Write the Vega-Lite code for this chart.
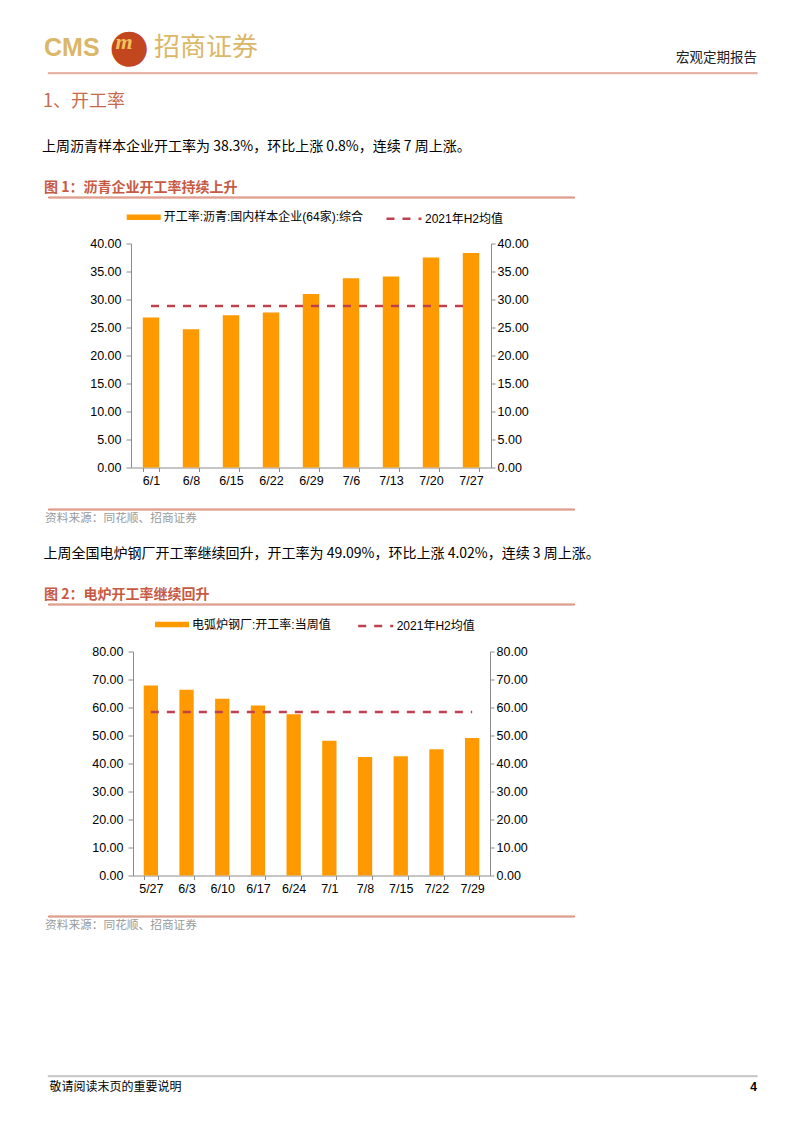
{
  "$schema": "https://vega.github.io/schema/vega-lite/v6.json",
  "background": "white",
  "padding": {"left": 42, "top": 23.5, "right": 45, "bottom": 40},
  "bounds": "flush",
  "spacing": 0,
  "resolve": {"scale": {"color": "independent", "strokeDash": "independent"}, "legend": {"color": "independent", "strokeDash": "independent"}},
  "config": {
    "view": {"stroke": null},
    "font": "Noto Sans CJK SC",
    "title": {"anchor": "start", "offset": 0.01, "baseline": "bottom", "fontWeight": "normal", "font": "Noto Sans CJK SC"},
    "axis": {"labelFont": "Liberation Sans", "labelFontSize": 12.5, "labelColor": "#000", "domainColor": "#8c8c8c", "tickColor": "#8c8c8c", "grid": false, "title": null},
    "legend": {"labelFont": "Liberation Sans, Noto Sans CJK SC", "labelFontSize": 12, "labelColor": "#000", "padding": 0, "labelLimit": 400}
  },
  "vconcat": [
    {"width": 709, "height": 1, "data": {"values": []}, "mark": "text",
     "title": {"text": "CMS", "font": "Liberation Sans", "fontSize": 25, "fontWeight": "bold", "color": "#DBB768", "dx": -4, "dy": 1}},
    {"width": 709, "height": 1, "data": {"values": []}, "mark": "text",
     "title": {"text": "●", "font": "DejaVu Sans", "fontSize": 46, "color": "#C2461E", "dx": 61, "dy": 9.6}},
    {"width": 709, "height": 1, "data": {"values": []}, "mark": "text",
     "title": {"text": "m", "font": "Liberation Serif", "fontSize": 22, "fontWeight": "bold", "fontStyle": "italic", "color": "#F2C35C", "dx": 67.5, "dy": -8.4}},
    {"width": 709, "height": 1, "data": {"values": []}, "mark": "text",
     "title": {"text": "招商证券", "fontSize": 26, "color": "#DBB768", "dx": 106, "dy": -2.6}},
    {"width": 709, "height": 8, "data": {"values": []}, "mark": "text",
     "title": {"text": "宏观定期报告", "anchor": "end", "fontSize": 13.5, "color": "#222222", "dy": -0.4}},
    {"width": 709, "height": 1, "data": {"values": []}, "mark": "text",
     "view": {"stroke": "#D4806A", "strokeWidth": 0.7}},
    {"width": 709, "height": 38, "data": {"values": []}, "mark": "text"},
    {"width": 709, "height": 43, "data": {"values": []}, "mark": "text",
     "title": {"text": "1、开工率", "fontSize": 18, "color": "#C86A4E", "dx": -5}},
    {"width": 709, "height": 42, "data": {"values": []}, "mark": "text",
     "title": {"text": "上周沥青样本企业开工率为 38.3%，环比上涨 0.8%，连续 7 周上涨。", "fontSize": 14, "color": "#000000", "dx": -6}},
    {"width": 526, "height": 1, "data": {"values": []}, "mark": "text",
     "view": {"stroke": "#D4806A", "strokeWidth": 1},
     "title": {"text": "图 1：沥青企业开工率持续上升", "fontSize": 14, "fontWeight": "bold", "color": "#C65A42", "offset": 1.7, "dx": -4}},
    {"width": 709, "height": 46, "data": {"values": []}, "mark": "text"},
    {
      "hconcat": [
        {"width": 83, "height": 224, "data": {"values": []}, "mark": "text"},
        {
          "width": 360, "height": 224,
          "data": {"values": [
            {"week": "6/1", "rate": 26.8, "avg": 28.85},
            {"week": "6/8", "rate": 24.7, "avg": 28.85},
            {"week": "6/15", "rate": 27.2, "avg": 28.85},
            {"week": "6/22", "rate": 27.7, "avg": 28.85},
            {"week": "6/29", "rate": 31.0, "avg": 28.85},
            {"week": "7/6", "rate": 33.8, "avg": 28.85},
            {"week": "7/13", "rate": 34.1, "avg": 28.85},
            {"week": "7/20", "rate": 37.5, "avg": 28.85},
            {"week": "7/27", "rate": 38.3, "avg": 28.85}
          ]},
          "layer": [
            {"mark": {"type": "bar"},
             "encoding": {
               "x": {"field": "week", "type": "ordinal", "sort": null,
                     "scale": {"paddingInner": 0.59, "paddingOuter": 0.295},
                     "axis": {"labelAngle": 0, "tickBand": "extent", "tickSize": 4, "labelPadding": 3}},
               "y": {"field": "rate", "type": "quantitative", "scale": {"domain": [0, 40], "nice": false},
                     "axis": {"orient": "left", "values": [0, 5, 10, 15, 20, 25, 30, 35, 40], "format": ".2f", "tickSize": 5, "labelPadding": 5}},
               "color": {"datum": "开工率:沥青:国内样本企业(64家):综合", "scale": {"range": ["#FF9900"]},
                         "legend": {"orient": "none", "legendX": -4.3, "legendY": -43.3, "title": null,
                                    "symbolType": "M-1,-0.16L1,-0.16L1,0.16L-1,0.16Z", "symbolSize": 1156,
                                    "symbolStrokeWidth": 0, "labelOffset": 3}}
             }},
            {"mark": {"type": "line", "color": "#C0404C", "strokeWidth": 2.5},
             "encoding": {
               "x": {"field": "week", "type": "ordinal", "sort": null},
               "y": {"field": "avg", "type": "quantitative", "scale": {"domain": [0, 40], "nice": false},
                     "axis": {"orient": "right", "values": [0, 5, 10, 15, 20, 25, 30, 35, 40], "format": ".2f", "tickSize": 4, "labelPadding": 2}},
               "strokeDash": {"datum": "2021年H2均值", "scale": {"range": [[8, 8]]},
                              "legend": {"orient": "none", "legendX": 254, "legendY": -43.8, "title": null,
                                         "symbolType": "stroke", "symbolSize": 1225, "symbolStrokeWidth": 2.5,
                                         "symbolStrokeColor": "#C0404C", "labelOffset": 2}}
             }}
          ],
          "resolve": {"scale": {"y": "independent"}}
        }
      ],
      "spacing": 0,
      "bounds": "flush",
      "resolve": {"scale": {"color": "independent", "strokeDash": "independent"}, "legend": {"color": "independent", "strokeDash": "independent"}}
    },
    {"width": 709, "height": 265, "data": {"values": []}, "mark": "text"},
    {"width": 526, "height": 1, "data": {"values": []}, "mark": "text",
     "view": {"stroke": "#D4806A", "strokeWidth": 1},
     "title": {"text": "资料来源：同花顺、招商证券", "orient": "bottom", "baseline": "top", "fontSize": 11.7, "color": "#9A9A9A", "offset": 3.7, "dx": -3}},
    {"width": 709, "height": 52, "data": {"values": []}, "mark": "text"},
    {"width": 709, "height": 42, "data": {"values": []}, "mark": "text",
     "title": {"text": "上周全国电炉钢厂开工率继续回升，开工率为 49.09%，环比上涨 4.02%，连续 3 周上涨。", "fontSize": 14, "color": "#000000", "dx": -4.5}},
    {"width": 526, "height": 1, "data": {"values": []}, "mark": "text",
     "view": {"stroke": "#D4806A", "strokeWidth": 1},
     "title": {"text": "图 2：电炉开工率继续回升", "fontSize": 14, "fontWeight": "bold", "color": "#C65A42", "offset": 1.2, "dx": -4}},
    {"width": 709, "height": 47, "data": {"values": []}, "mark": "text"},
    {
      "hconcat": [
        {"width": 85, "height": 224, "data": {"values": []}, "mark": "text"},
        {
          "width": 357, "height": 224,
          "data": {"values": [
            {"week": "5/27", "rate": 67.9, "avg": 58.4},
            {"week": "6/3", "rate": 66.3, "avg": 58.4},
            {"week": "6/10", "rate": 63.1, "avg": 58.4},
            {"week": "6/17", "rate": 60.7, "avg": 58.4},
            {"week": "6/24", "rate": 57.6, "avg": 58.4},
            {"week": "7/1", "rate": 48.1, "avg": 58.4},
            {"week": "7/8", "rate": 42.3, "avg": 58.4},
            {"week": "7/15", "rate": 42.6, "avg": 58.4},
            {"week": "7/22", "rate": 45.07, "avg": 58.4},
            {"week": "7/29", "rate": 49.09, "avg": 58.4}
          ]},
          "layer": [
            {"mark": {"type": "bar"},
             "encoding": {
               "x": {"field": "week", "type": "ordinal", "sort": null,
                     "scale": {"paddingInner": 0.6, "paddingOuter": 0.3},
                     "axis": {"labelAngle": 0, "tickBand": "extent", "tickSize": 4, "labelPadding": 3}},
               "y": {"field": "rate", "type": "quantitative", "scale": {"domain": [0, 80], "nice": false},
                     "axis": {"orient": "left", "values": [0, 10, 20, 30, 40, 50, 60, 70, 80], "format": ".2f", "tickSize": 5, "labelPadding": 5}},
               "color": {"datum": "电弧炉钢厂:开工率:当周值", "scale": {"range": ["#FF9900"]},
                         "legend": {"orient": "none", "legendX": 22, "legendY": -44, "title": null,
                                    "symbolType": "M-1,-0.16L1,-0.16L1,0.16L-1,0.16Z", "symbolSize": 1156,
                                    "symbolStrokeWidth": 0, "labelOffset": 3}}
             }},
            {"mark": {"type": "line", "color": "#C0404C", "strokeWidth": 2.5},
             "encoding": {
               "x": {"field": "week", "type": "ordinal", "sort": null},
               "y": {"field": "avg", "type": "quantitative", "scale": {"domain": [0, 80], "nice": false},
                     "axis": {"orient": "right", "values": [0, 10, 20, 30, 40, 50, 60, 70, 80], "format": ".2f", "tickSize": 4, "labelPadding": 2}},
               "strokeDash": {"datum": "2021年H2均值", "scale": {"range": [[8, 8]]},
                              "legend": {"orient": "none", "legendX": 223.7, "legendY": -44.5, "title": null,
                                         "symbolType": "stroke", "symbolSize": 1225, "symbolStrokeWidth": 2.5,
                                         "symbolStrokeColor": "#C0404C", "labelOffset": 2}}
             }}
          ],
          "resolve": {"scale": {"y": "independent"}}
        }
      ],
      "spacing": 0,
      "bounds": "flush",
      "resolve": {"scale": {"color": "independent", "strokeDash": "independent"}, "legend": {"color": "independent", "strokeDash": "independent"}}
    },
    {"width": 709, "height": 264, "data": {"values": []}, "mark": "text"},
    {"width": 526, "height": 1, "data": {"values": []}, "mark": "text",
     "view": {"stroke": "#D4806A", "strokeWidth": 1},
     "title": {"text": "资料来源：同花顺、招商证券", "orient": "bottom", "baseline": "top", "fontSize": 11.7, "color": "#9A9A9A", "offset": 3.2, "dx": -3}},
    {"width": 709, "height": 159, "data": {"values": []}, "mark": "text"},
    {"width": 709, "height": 1, "data": {"values": []}, "mark": "text",
     "view": {"stroke": "#A6A6A6", "strokeWidth": 0.7},
     "title": {"text": "敬请阅读末页的重要说明", "orient": "bottom", "baseline": "top", "fontSize": 12, "color": "#000000", "offset": 5, "dx": 1.5}},
    {"width": 709, "height": 1, "data": {"values": []}, "mark": "text",
     "title": {"text": "4", "orient": "bottom", "baseline": "top", "anchor": "end", "font": "Liberation Sans", "fontSize": 12, "fontWeight": "bold", "color": "#000000", "offset": 4.5}}
  ]
}
